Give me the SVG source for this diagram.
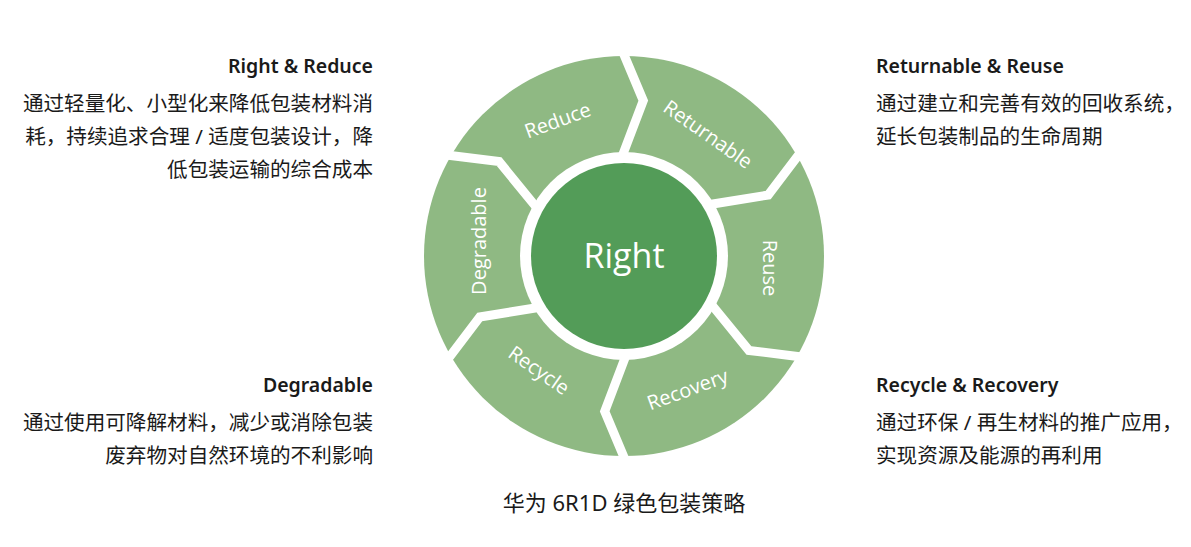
<svg xmlns="http://www.w3.org/2000/svg" width="1191" height="547" viewBox="0 0 1191 547">
<style>
.t{font-family:"Noto Sans","Noto Sans CJK SC",sans-serif;fill:#1a1a1a}
.h{font-size:19.5px;font-weight:600}
.b{font-size:20.6px}
.l{font-family:"Open Sans","Noto Sans",sans-serif;font-size:20px;fill:#fff}
.sep{fill:none;stroke:#fff;stroke-width:9;stroke-linejoin:miter}
</style>
<rect width="1191" height="547" fill="#fff"/>
<g id="ring">
<circle cx="624" cy="256" r="200" fill="#8fb983"/>
<circle cx="624" cy="256" r="104" fill="#fff"/>
</g>
<g id="connectors">
<polyline class="sep" points="0,-210 22,-155 0,-100" transform="translate(624,256) rotate(-1)"/>
<polyline class="sep" points="0,-210 22,-155 0,-100" transform="translate(624,256) rotate(59)"/>
<polyline class="sep" points="0,-210 22,-155 0,-100" transform="translate(624,256) rotate(119)"/>
<polyline class="sep" points="0,-210 22,-155 0,-100" transform="translate(624,256) rotate(179)"/>
<polyline class="sep" points="0,-210 22,-155 0,-100" transform="translate(624,256) rotate(239)"/>
<polyline class="sep" points="0,-210 22,-155 0,-100" transform="translate(624,256) rotate(299)"/>
</g>
<g id="center">
<circle cx="624" cy="256" r="93" fill="#539c58"/>
<text x="624" y="268" text-anchor="middle" font-family="Open Sans,Noto Sans,sans-serif" font-size="34" fill="#fff">Right</text>
</g>
<g id="reduce"><text class="l" text-anchor="middle" transform="translate(560,127) rotate(-20)">Reduce</text></g>
<g id="returnable"><text class="l" text-anchor="middle" transform="translate(704,140) rotate(35)">Returnable</text></g>
<g id="reuse"><text class="l" text-anchor="middle" transform="translate(763,268) rotate(90)">Reuse</text></g>
<g id="recovery"><text class="l" text-anchor="middle" transform="translate(690,396) rotate(-20)">Recovery</text></g>
<g id="recycle"><text class="l" text-anchor="middle" transform="translate(535,376) rotate(35)">Recycle</text></g>
<g id="degradable"><text class="l" text-anchor="middle" transform="translate(486,241) rotate(-90)">Degradable</text></g>
<g id="t1" class="t" text-anchor="end">
<text x="373" y="73" class="h">Right &amp; Reduce</text>
<text x="373" y="111" class="b">通过轻量化、小型化来降低包装材料消</text>
<text x="373" y="144" class="b">耗，持续追求合理 / 适度包装设计，降</text>
<text x="373" y="177" class="b">低包装运输的综合成本</text>
</g>
<g id="t2" class="t">
<text x="876" y="73" class="h">Returnable &amp; Reuse</text>
<text x="876" y="111" class="b">通过建立和完善有效的回收系统，</text>
<text x="876" y="144" class="b">延长包装制品的生命周期</text>
</g>
<g id="t3" class="t" text-anchor="end">
<text x="373" y="392" class="h">Degradable</text>
<text x="373" y="430" class="b">通过使用可降解材料，减少或消除包装</text>
<text x="373" y="463" class="b">废弃物对自然环境的不利影响</text>
</g>
<g id="t4" class="t">
<text x="876" y="392" class="h">Recycle &amp; Recovery</text>
<text x="876" y="430" class="b">通过环保 / 再生材料的推广应用，</text>
<text x="876" y="463" class="b">实现资源及能源的再利用</text>
</g>
<text class="t" x="624" y="511" text-anchor="middle" font-size="22">华为 6R1D 绿色包装策略</text>
</svg>
